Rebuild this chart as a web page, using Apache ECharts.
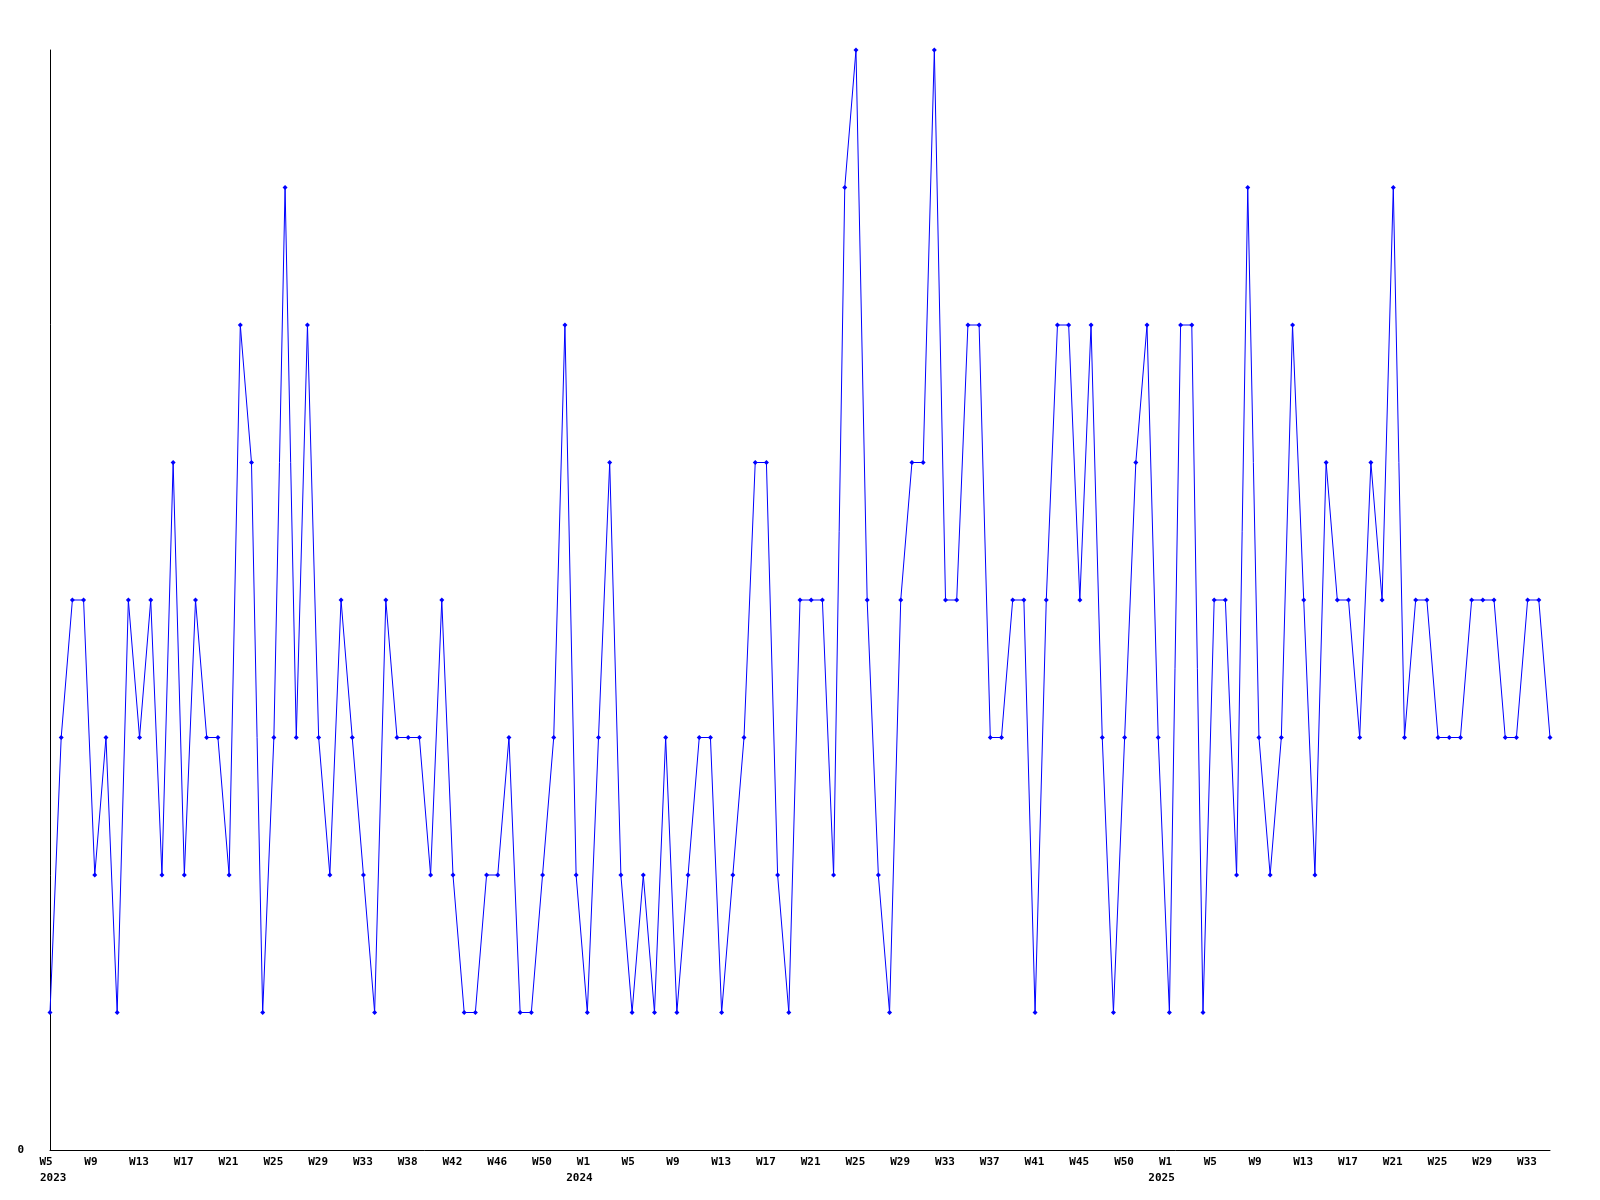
<!DOCTYPE html>
<html>
<head>
<meta charset="utf-8">
<script src="https://cdn.jsdelivr.net/npm/echarts@6/dist/echarts.min.js"></script>
<style>
html,body{margin:0;padding:0;background:#fff;}
#chart{width:1600px;height:1200px;}
</style>
</head>
<body>
<div id="chart"></div>
<script>
// Weekly values, starting at 2023-W5 (one point per week)
const values2023 = [1,3,4,4,2,3,1,4,3,4,2,5,2,4,3,3,2,6,5,1,3,7,3,
                    6,3,2,4,3,2,1,4,3,3,3,2,4,2,1,1,2,2,3,1,1,2,3,6];
const values2024 = [2,1,3,5,2,1,2,1,3,1,2,3,3,1,2,3,5,5,2,1,4,
                    4,4,2,7,8,4,2,1,4,5,5,8,4,4,6,6,3,3,4,4,1,4,
                    6,6,4,6,3,1,3,5,6,3];
const values2025 = [1,6,6,1,4,4,2,7,3,2,3,6,
                    4,2,5,4,4,3,5,4,7,3,4,4,3,3,3,4,4,4,3,3,4,4,3];

// Tick labels on the week axis (one every 4 points)
const weekLabels = ['W5','W9','W13','W17','W21','W25','W29','W33','W38','W42','W46','W50',
                    'W1','W5','W9','W13','W17','W21','W25','W29','W33','W37','W41','W45','W50',
                    'W1','W5','W9','W13','W17','W21','W25','W29','W33'];
const WEEK_STEP = 4;
const yearLabels = ['2023','2024','2025'];
const yearTickAt = [0.28, 47.3, 99.3];

const values = values2023.concat(values2024, values2025);
const seriesData = values.map((v, i) => [i, v]);
const lastIdx = values.length - 1;

const FONT = 'DejaVu Sans Mono';
function nearestIndex(arr, v) {
  let best = 0, bd = Infinity;
  arr.forEach((a, i) => { const d = Math.abs(a - v); if (d < bd) { bd = d; best = i; } });
  return best;
}

const chart = echarts.init(document.getElementById('chart'), null, {renderer: 'canvas'});
chart.setOption({
  animation: false,
  backgroundColor: '#ffffff',
  grid: {left: 50, right: 50, top: 50, bottom: 50, containLabel: false},
  xAxis: [
    {
      type: 'value', min: 0, max: lastIdx, interval: WEEK_STEP,
      axisLine: {show: true, lineStyle: {color: '#000', width: 1}},
      axisTick: {show: false},
      splitLine: {show: false},
      axisLabel: {
        margin: 7,
        showMaxLabel: false,
        hideOverlap: false,
        color: '#000',
        fontFamily: FONT, fontWeight: 'bold', fontSize: 11,
        formatter: function (v) {
          const k = v / WEEK_STEP;
          if (Math.abs(k - Math.round(k)) > 1e-6 || !weekLabels[Math.round(k)]) return '';
          return '{w|' + weekLabels[Math.round(k)] + '}';
        },
        rich: {w: {width: 21, align: 'left', color: '#000', fontFamily: FONT, fontWeight: 'bold', fontSize: 11}}
      }
    },
    {
      type: 'value', min: 0, max: lastIdx, position: 'bottom',
      axisLine: {show: false},
      axisTick: {show: false},
      splitLine: {show: false},
      axisLabel: {
        customValues: yearTickAt,
        margin: 23,
        color: '#000',
        fontFamily: FONT, fontWeight: 'bold', fontSize: 11,
        formatter: function (v) { return yearLabels[nearestIndex(yearTickAt, v)]; }
      }
    }
  ],
  yAxis: {
    type: 'value', min: 0, max: 8, interval: 8,
    axisLine: {show: true, lineStyle: {color: '#000', width: 1}},
    axisTick: {show: false},
    splitLine: {show: false},
    axisLabel: {
      margin: 26, color: '#000',
      fontFamily: FONT, fontWeight: 'bold', fontSize: 11,
      formatter: function (v) { return v === 0 ? '0' : ''; }
    }
  },
  series: [{
    type: 'line',
    data: seriesData,
    xAxisIndex: 0,
    symbol: 'diamond',
    symbolSize: 5,
    showAllSymbol: true,
    clip: false,
    lineStyle: {color: '#0000ff', width: 1},
    itemStyle: {color: '#0000ff'},
    emphasis: {disabled: true}
  }]
});
</script>
</body>
</html>
